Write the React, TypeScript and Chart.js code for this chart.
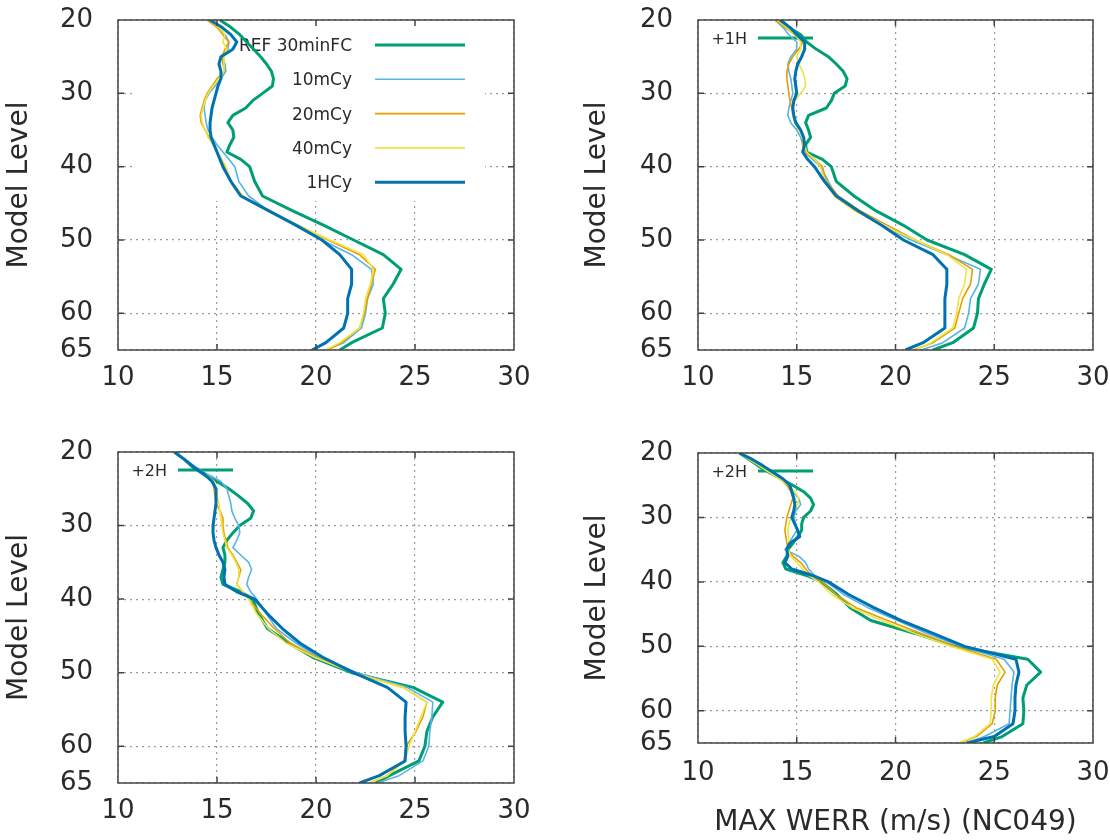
import React, { useEffect, useRef } from 'react';
import { Chart, registerables } from 'chart.js';

Chart.register(...registerables);

// ---------- data ----------
const LEVELS = [20, 21, 22, 23, 24, 25, 26, 27, 28, 29, 30, 31, 32, 33, 34, 35, 36, 37, 38, 39, 40,
  42, 44, 46, 48, 50, 52, 54, 56, 58, 60, 62, 64, 65];

const SERIES_NAMES = ['REF 30minFC', '10mCy', '20mCy', '40mCy', '1HCy'];
const COLORS = ['#009e73', '#56b4e9', '#e69f00', '#f0e442', '#0072b2'];
const WIDTHS = [3, 1.6, 1.6, 1.6, 3];
const X_TICKS = [10, 15, 20, 25, 30];
const Y_TICKS = [20, 30, 40, 50, 60, 65];
const X_TITLE = 'MAX WERR (m/s) (NC049)';
const Y_TITLE = 'Model Level';

// Panel 1 (top-left, full key)
const P1_REF = [15.15, 15.7, 16.15, 16.5, 16.85, 17.2, 17.5, 17.75, 17.85, 17.8, 17.3, 16.8, 16.45, 15.8, 15.55, 15.8, 15.85, 15.65, 15.5, 16.2, 16.65,
  16.9, 17.3, 18.8, 20.4, 21.9, 23.4, 24.3, 23.9, 23.4, 23.5, 23.35, 21.8, 21.2];
const P1_10M = [14.6, 15.1, 15.4, 15.6, 15.55, 15.3, 15.4, 15.45, 15.2, 14.9, 14.6, 14.4, 14.35, 14.4, 14.45, 14.55, 14.75, 15.0, 15.3, 15.6, 15.9,
  16.1, 16.6, 17.6, 19.0, 20.3, 21.8, 22.8, 22.9, 22.6, 22.5, 22.3, 21.4, 20.5];
const P1_20M = [14.5, 15.0, 15.3, 15.6, 15.4, 15.25, 15.3, 15.4, 15.0, 14.75, 14.5, 14.35, 14.25, 14.15, 14.2, 14.4, 14.6, 14.8, 15.0, 15.2, 15.4,
  15.7, 16.3, 17.6, 19.1, 20.6, 22.2, 23.0, 22.8, 22.6, 22.45, 22.2, 21.3, 20.6];
const P1_40M = [14.6, 15.1, 15.4, 15.3, 15.5, 15.35, 15.35, 15.35, 15.1, 14.8, 14.55, 14.4, 14.3, 14.2, 14.25, 14.4, 14.55, 14.8, 15.0, 15.25, 15.45,
  15.7, 16.3, 17.5, 19.1, 20.7, 22.4, 22.9, 22.75, 22.5, 22.4, 22.2, 21.2, 20.5];
const P1_1H = [14.65, 15.25, 15.7, 16.0, 15.8, 15.2, 15.1, 15.2, 15.2, 15.05, 14.95, 14.85, 14.75, 14.7, 14.65, 14.65, 14.7, 14.85, 15.0, 15.15, 15.3,
  15.7, 16.2, 17.6, 19.0, 20.3, 21.2, 21.8, 21.8, 21.6, 21.6, 21.4, 20.5, 19.8];

// Panel 2 (top-right, +1H)
const P2_REF = [14.2, 14.6, 15.2, 15.5, 16.0, 16.6, 17.0, 17.35, 17.55, 17.45, 16.9, 16.75, 16.5, 15.6, 15.45, 15.6, 15.7, 15.45, 15.5, 16.3, 16.75,
  17.0, 17.9, 19.0, 20.4, 21.6, 23.5, 24.85, 24.5, 24.2, 24.15, 23.95, 22.9, 21.9];
const P2_10M = [13.9, 14.3, 14.6, 15.0, 15.0, 14.7, 14.55, 14.6, 14.7, 14.75, 14.8, 14.7, 14.6, 14.55, 14.7, 15.0, 15.2, 15.3, 15.4, 15.8, 16.2,
  16.6, 17.0, 18.0, 19.3, 20.8, 22.6, 24.3, 24.2, 23.8, 23.7, 23.5, 22.4, 21.3];
const P2_20M = [13.9, 14.4, 14.9, 15.3, 15.1, 14.8, 14.6, 14.5, 14.5, 14.55, 14.6, 14.65, 14.75, 14.8, 14.9, 15.2, 15.3, 15.3, 15.4, 15.9, 16.3,
  16.5, 17.1, 18.2, 19.6, 21.0, 22.7, 23.9, 23.8, 23.4, 23.2, 23.0, 21.9, 20.9];
const P2_40M = [14.0, 14.5, 14.9, 15.2, 15.2, 15.0, 15.1, 15.3, 15.4, 15.45, 15.2, 14.9, 14.8, 14.8, 14.9, 15.1, 15.3, 15.4, 15.5, 15.9, 16.2,
  16.4, 16.9, 17.9, 19.3, 21.0, 22.6, 23.6, 23.5, 23.2, 23.1, 22.9, 21.8, 21.0];
const P2_1H = [14.15, 14.65, 15.0, 15.4, 15.4, 15.25, 15.05, 14.95, 14.9, 14.95, 15.0, 14.85, 14.8, 14.85, 14.95, 15.2, 15.35, 15.4, 15.3, 15.55, 15.9,
  16.4, 17.0, 18.1, 19.3, 20.4, 21.9, 22.6, 22.6, 22.5, 22.5, 22.5, 21.4, 20.5];

// Panel 3 (bottom-left, +2H)
const P3_REF = [12.85, 13.35, 13.75, 14.3, 15.0, 15.6, 16.1, 16.55, 16.85, 16.7, 16.15, 15.8, 15.5, 15.3, 15.4, 15.4, 15.3, 15.2, 15.3, 16.2, 16.8,
  17.1, 17.55, 18.65, 19.9, 21.8, 24.9, 26.4, 25.9, 25.6, 25.5, 25.2, 23.7, 23.0];
const P3_10M = [12.85, 13.4, 13.9, 14.5, 15.2, 15.5, 15.6, 15.7, 15.75, 15.9, 16.1, 16.15, 16.0, 15.8, 16.2, 16.6, 16.75, 16.6, 16.5, 16.7, 17.0,
  17.5, 18.0, 19.0, 20.2, 22.1, 24.6, 25.9, 25.85, 25.75, 25.7, 25.4, 24.2, 23.1];
const P3_20M = [12.85, 13.3, 13.8, 14.4, 14.8, 14.85, 14.9, 14.95, 15.15, 15.3, 15.3, 15.35, 15.45, 15.55, 15.8, 16.0, 16.2, 16.1, 16.0, 16.3, 16.6,
  17.2, 17.9, 18.7, 20.1, 21.9, 24.4, 25.6, 25.4, 25.05, 24.55, 24.45, 23.6, 22.7];
const P3_40M = [12.85, 13.3, 13.8, 14.4, 14.85, 14.95, 15.0, 15.1, 15.15, 15.2, 15.25, 15.3, 15.4, 15.5, 15.75, 15.95, 16.1, 16.1, 16.0, 16.3, 16.6,
  17.0, 17.6, 18.5, 20.0, 21.9, 24.4, 25.6, 25.3, 25.0, 24.7, 24.5, 23.6, 22.7];
const P3_1H = [12.85, 13.35, 13.8, 14.35, 14.75, 14.95, 14.95, 14.95, 14.9, 14.85, 14.8, 14.8, 14.85, 14.95, 15.1, 15.3, 15.4, 15.35, 15.4, 16.0, 16.9,
  17.55, 18.3, 19.2, 20.4, 21.9, 23.6, 24.55, 24.5, 24.5, 24.55, 24.5, 23.2, 22.2];

// Panel 4 (bottom-right, +2H)
const P4_REF = [12.1, 12.6, 13.05, 13.6, 14.2, 14.8, 15.35, 15.7, 15.85, 15.7, 15.35, 15.25, 15.25, 15.05, 14.8, 14.55, 14.5, 14.3, 14.45, 15.5, 16.25,
  17.05, 17.7, 18.75, 21.0, 23.0, 26.7, 27.35, 26.65, 26.45, 26.5, 26.45, 25.4, 24.45];
const P4_10M = [12.1, 12.65, 13.2, 13.7, 14.15, 14.5, 14.8, 15.1, 15.2, 14.95, 14.85, 14.95, 15.0, 14.8, 14.6, 14.4, 15.1, 15.45, 15.6, 15.9, 16.5,
  17.4, 18.6, 20.1, 21.6, 23.3, 25.5, 26.0, 25.9, 25.85, 25.8, 25.75, 24.5, 23.6];
const P4_20M = [12.1, 12.6, 13.15, 13.65, 14.15, 14.5, 14.7, 14.8, 14.7, 14.6, 14.5, 14.45, 14.4, 14.45, 14.5, 14.55, 14.8, 15.2, 15.45, 15.75, 16.3,
  17.0, 18.0, 19.6, 21.3, 23.0, 25.1, 25.55, 25.15, 25.05, 25.05, 24.9, 24.1, 23.25];
const P4_40M = [12.1, 12.6, 13.1, 13.6, 14.1, 14.6, 14.9, 15.1, 15.05, 14.8, 14.7, 14.6, 14.55, 14.6, 14.6, 14.55, 14.7, 15.0, 15.3, 15.6, 16.1,
  16.8, 17.8, 19.3, 21.0, 22.8, 24.9, 25.3, 24.95, 24.85, 24.85, 24.8, 24.0, 23.2];
const P4_1H = [12.1, 12.75, 13.3, 13.8, 14.3, 14.65, 14.75, 14.85, 14.9, 14.85, 14.75, 14.9, 15.05, 15.15, 14.65, 14.5, 14.55, 14.4, 14.75, 15.8, 16.6,
  17.65, 18.9, 20.3, 21.9, 23.5, 26.1, 26.25, 26.1, 26.05, 26.05, 25.95, 25.0, 23.6];

const PANEL_SERIES = [
  [P1_REF, P1_10M, P1_20M, P1_40M, P1_1H],
  [P2_REF, P2_10M, P2_20M, P2_40M, P2_1H],
  [P3_REF, P3_10M, P3_20M, P3_40M, P3_1H],
  [P4_REF, P4_10M, P4_20M, P4_40M, P4_1H],
];
const PANEL_KEYS = [null, '+1H', '+2H', '+2H'];

// ---------- layout ----------
const LAYOUT = [
  { left: 0, top: 0, w: 560, h: 420, padTop: 20, padRight: 46, xh: 70, xpad: 13, titlePad: 3, xTitle: false },
  { left: 580, top: 0, w: 530, h: 420, padTop: 20, padRight: 17, xh: 70, xpad: 13, titlePad: 1, xTitle: false },
  { left: 0, top: 432, w: 560, h: 408, padTop: 20, padRight: 46, xh: 57, xpad: 13, titlePad: 3, xTitle: false },
  { left: 580, top: 432, w: 530, h: 408, padTop: 21, padRight: 17, xh: 97, xpad: 15, titlePad: 1, xTitle: true },
];

const FONT = "'DejaVu Sans', 'Liberation Sans', sans-serif";
const TEXT = '#2a2a2a';

function makeFramePlugin(keyLabel: string | null) {
  return {
    id: 'gnuframe',
    beforeDatasetsDraw(chart: any) {
      const { ctx, chartArea: a } = chart;
      ctx.save();
      if (keyLabel === null) {
        ctx.fillStyle = '#ffffff';
        ctx.fillRect(a.left + 17, a.top + 1, 350, 180);
        ctx.font = `17px ${FONT}`;
        ctx.textAlign = 'right';
        ctx.textBaseline = 'middle';
        SERIES_NAMES.forEach((n, i) => {
          const y = a.top + 25 + 34.3 * i;
          ctx.fillStyle = TEXT;
          ctx.fillText(n, a.left + 234, y + 1.5);
          ctx.strokeStyle = COLORS[i];
          ctx.lineWidth = WIDTHS[i];
          ctx.beginPath();
          ctx.moveTo(a.left + 257, y);
          ctx.lineTo(a.left + 347, y);
          ctx.stroke();
        });
      } else {
        ctx.font = `16px ${FONT}`;
        ctx.textAlign = 'right';
        ctx.textBaseline = 'middle';
        ctx.fillStyle = TEXT;
        ctx.fillText(keyLabel, a.left + 49, a.top + 20);
        ctx.strokeStyle = COLORS[0];
        ctx.lineWidth = WIDTHS[0];
        ctx.beginPath();
        ctx.moveTo(a.left + 60, a.top + 18);
        ctx.lineTo(a.left + 115, a.top + 18);
        ctx.stroke();
      }
      ctx.restore();
    },
    afterDraw(chart: any) {
      const { ctx, chartArea: a, scales } = chart;
      ctx.save();
      ctx.strokeStyle = '#444';
      ctx.lineWidth = 1.5;
      ctx.beginPath();
      X_TICKS.slice(1, -1).forEach((v) => {
        const x = scales.x.getPixelForValue(v);
        ctx.moveTo(x, a.top); ctx.lineTo(x, a.top + 6);
        ctx.moveTo(x, a.bottom); ctx.lineTo(x, a.bottom - 6);
      });
      Y_TICKS.slice(1, -1).forEach((v) => {
        const y = scales.y.getPixelForValue(v);
        ctx.moveTo(a.left, y); ctx.lineTo(a.left + 6, y);
        ctx.moveTo(a.right, y); ctx.lineTo(a.right - 6, y);
      });
      ctx.stroke();
      ctx.strokeRect(a.left, a.top, a.right - a.left, a.bottom - a.top);
      ctx.restore();
    },
  };
}

function Panel({ index }: { index: number }) {
  const ref = useRef<HTMLCanvasElement>(null);
  const L = LAYOUT[index];
  useEffect(() => {
    const series = PANEL_SERIES[index];
    const datasets = series.map((vals, i) => ({
      label: SERIES_NAMES[i],
      data: vals.map((v, k) => ({ x: v, y: LEVELS[k] })),
      borderColor: COLORS[i],
      backgroundColor: COLORS[i],
      borderWidth: WIDTHS[i],
      pointRadius: 0,
      showLine: true,
      tension: 0,
      order: 5 - i,
      borderJoinStyle: 'round' as const,
    }));
    const tickFont = { family: FONT, size: 26 };
    const chart = new Chart(ref.current as HTMLCanvasElement, {
      type: 'scatter',
      data: { datasets },
      plugins: [makeFramePlugin(PANEL_KEYS[index])],
      options: {
        animation: false,
        responsive: false,
        devicePixelRatio: 1,
        layout: { padding: { top: L.padTop, right: L.padRight, left: 0, bottom: 0 } },
        plugins: { legend: { display: false }, tooltip: { enabled: false } },
        scales: {
          x: {
            type: 'linear',
            min: 10,
            max: 30,
            afterBuildTicks: (s: any) => { s.ticks = X_TICKS.map((v) => ({ value: v })); },
            afterFit: (s: any) => {
              s.height = L.xh;
              s.paddingLeft = 0; s.paddingRight = 0; s.paddingTop = 0; s.paddingBottom = 0;
            },
            grid: { color: '#9a9a9a', lineWidth: 1.2, drawTicks: false },
            border: { display: false, dash: [2, 4] },
            ticks: { padding: L.xpad, color: TEXT, font: tickFont, maxRotation: 0, autoSkip: false },
            title: {
              display: L.xTitle,
              text: X_TITLE,
              color: TEXT,
              font: { family: FONT, size: 28 },
              padding: { top: 0, bottom: 0 },
            },
          },
          y: {
            type: 'linear',
            reverse: true,
            min: 20,
            max: 65,
            afterBuildTicks: (s: any) => { s.ticks = Y_TICKS.map((v) => ({ value: v })); },
            afterFit: (s: any) => {
              s.width = 118;
              s.paddingLeft = 0; s.paddingRight = 0; s.paddingTop = 0; s.paddingBottom = 0;
            },
            grid: { color: '#9a9a9a', lineWidth: 1.2, drawTicks: false },
            border: { display: false, dash: [2, 4] },
            ticks: { padding: 25, color: TEXT, font: tickFont, autoSkip: false },
            title: {
              display: true,
              text: Y_TITLE,
              color: TEXT,
              font: { family: FONT, size: 28 },
              padding: { top: L.titlePad, bottom: 0 },
            },
          },
        },
      } as any,
    });
    return () => chart.destroy();
  }, [index]);
  return (
    <canvas
      ref={ref}
      width={L.w}
      height={L.h}
      style={{ position: 'absolute', left: L.left, top: L.top, width: L.w, height: L.h }}
    />
  );
}

export default function App() {
  return (
    <div style={{ position: 'absolute', left: 0, top: 0, width: 1110, height: 840, background: '#fff' }}>
      {[0, 1, 2, 3].map((i) => (
        <Panel key={i} index={i} />
      ))}
    </div>
  );
}
